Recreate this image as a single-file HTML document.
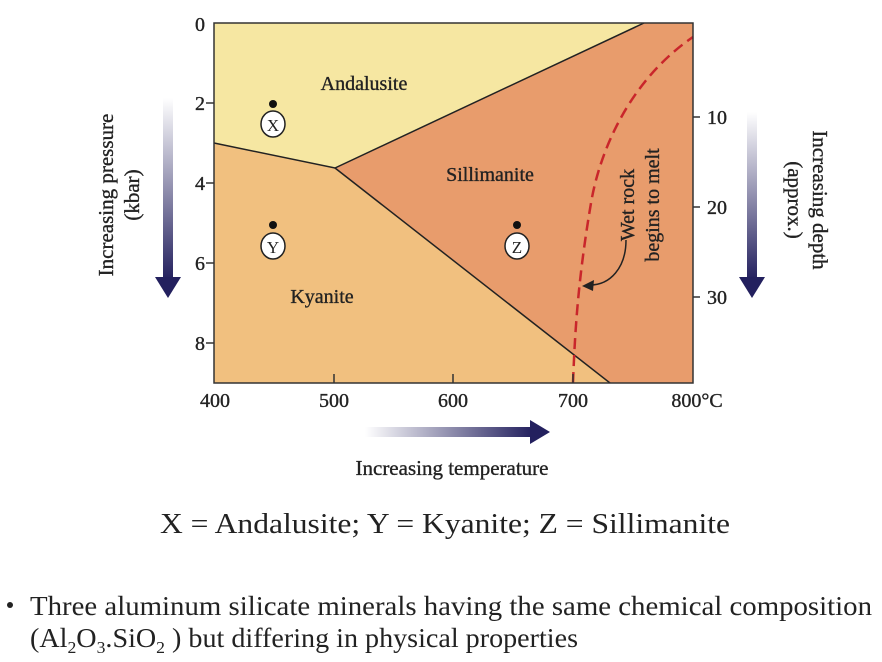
<!DOCTYPE html>
<html><head><meta charset="utf-8"><style>
html,body{margin:0;padding:0;background:#fff;}
svg{display:block;}
text{font-family:"Liberation Serif",serif;fill:#222;}
.b{stroke:#222;stroke-width:0.35;}
</style></head><body>
<svg width="882" height="662" viewBox="0 0 882 662" xmlns="http://www.w3.org/2000/svg">
<defs>
<linearGradient id="gv" x1="0" y1="0" x2="0" y2="1"><stop offset="0" stop-color="#fff"/><stop offset="1" stop-color="#23205e"/></linearGradient>
<linearGradient id="gh" x1="0" y1="0" x2="1" y2="0"><stop offset="0" stop-color="#fff"/><stop offset="1" stop-color="#23205e"/></linearGradient>
</defs>
<polygon points="214,23 644,23 335,168 214,143" fill="#f6e7a2"/>
<polygon points="214,143 335,168 610,383 214,383" fill="#f1c07f"/>
<polygon points="335,168 644,23 693,23 693,383 610,383" fill="#e89c6c"/>
<polyline points="214,143 335,168 644,23" fill="none" stroke="#222" stroke-width="1.5"/>
<line x1="335" y1="168" x2="610" y2="383" stroke="#222" stroke-width="1.5"/>
<path d="M573,383 C575,330 578,280 591,203 C600,150 630,80 693,37" fill="none" stroke="#c9262b" stroke-width="2.5" stroke-dasharray="11,6"/>
<rect x="214" y="23" width="479" height="360" fill="none" stroke="#333" stroke-width="1.5"/>
<g stroke="#333" stroke-width="1.5">
<line x1="206" y1="103" x2="214" y2="103"/><line x1="206" y1="183" x2="214" y2="183"/><line x1="206" y1="263" x2="214" y2="263"/><line x1="206" y1="343" x2="214" y2="343"/>
<line x1="334" y1="383" x2="334" y2="374"/><line x1="453" y1="383" x2="453" y2="374"/><line x1="573" y1="383" x2="573" y2="374"/>
<line x1="693" y1="117" x2="700" y2="117"/><line x1="693" y1="207" x2="700" y2="207"/><line x1="693" y1="297" x2="700" y2="297"/>
</g>
<g font-size="20" text-anchor="middle" class="b">
<text x="200" y="31">0</text><text x="200" y="110">2</text><text x="200" y="190">4</text><text x="200" y="270">6</text><text x="200" y="350">8</text>
<text x="215" y="407">400</text><text x="334" y="407">500</text><text x="453" y="407">600</text><text x="573" y="407">700</text><text x="697" y="407">800°C</text>
<text x="717" y="124">10</text><text x="717" y="214">20</text><text x="717" y="304">30</text>
</g>
<g font-size="20" text-anchor="middle" class="b">
<text x="364" y="90">Andalusite</text>
<text x="490" y="181">Sillimanite</text>
<text x="322" y="303">Kyanite</text>
</g>
<g>
<circle cx="273" cy="104" r="4" fill="#111"/><ellipse cx="273" cy="124" rx="12" ry="13" fill="#fff" stroke="#222" stroke-width="1.5"/><text x="273" y="131" font-size="17" text-anchor="middle">X</text>
<circle cx="273" cy="225" r="4" fill="#111"/><ellipse cx="273" cy="246" rx="12" ry="13" fill="#fff" stroke="#222" stroke-width="1.5"/><text x="273" y="253" font-size="17" text-anchor="middle">Y</text>
<circle cx="517" cy="225" r="4" fill="#111"/><ellipse cx="517" cy="246" rx="12" ry="13" fill="#fff" stroke="#222" stroke-width="1.5"/><text x="517" y="253" font-size="17" text-anchor="middle">Z</text>
</g>
<g font-size="20" text-anchor="middle" class="b">
<text transform="translate(634,205) rotate(-90)">Wet rock</text>
<text transform="translate(659,205) rotate(-90)">begins to melt</text>
</g>
<path d="M626,240 C626,268 610,285 590,285" fill="none" stroke="#222" stroke-width="1.5"/>
<polygon points="582,286 594,280 593,291" fill="#222"/>
<rect x="163" y="98" width="10" height="182" fill="url(#gv)"/>
<polygon points="155,277 181,277 168,298" fill="#23205e"/>
<rect x="747" y="112" width="10" height="168" fill="url(#gv)"/>
<polygon points="739,277 765,277 752,298" fill="#23205e"/>
<rect x="365" y="427" width="168" height="10" fill="url(#gh)"/>
<polygon points="530,420 530,444 550,432" fill="#23205e"/>
<g font-size="21" text-anchor="middle" class="b">
<text transform="translate(113,195) rotate(-90)">Increasing pressure</text>
<text transform="translate(139,195) rotate(-90)">(kbar)</text>
<text transform="translate(813,200) rotate(90)">Increasing depth</text>
<text transform="translate(788,200) rotate(90)">(approx.)</text>
<text x="452" y="475">Increasing temperature</text>
</g>
<text x="445" y="533" font-size="28" text-anchor="middle" textLength="570" lengthAdjust="spacingAndGlyphs">X = Andalusite; Y = Kyanite; Z = Sillimanite</text>
<circle cx="10" cy="605" r="3" fill="#222"/>
<text x="30" y="615" font-size="27" textLength="842" lengthAdjust="spacingAndGlyphs">Three aluminum silicate minerals having the same chemical composition</text>
<text x="30" y="647" font-size="27" textLength="548" lengthAdjust="spacingAndGlyphs">(Al<tspan font-size="17" dy="6">2</tspan><tspan dy="-6">O</tspan><tspan font-size="17" dy="6">3</tspan><tspan dy="-6">.SiO</tspan><tspan font-size="17" dy="6">2</tspan><tspan dy="-6"> ) but differing in physical properties</tspan></text>
</svg>
</body></html>
